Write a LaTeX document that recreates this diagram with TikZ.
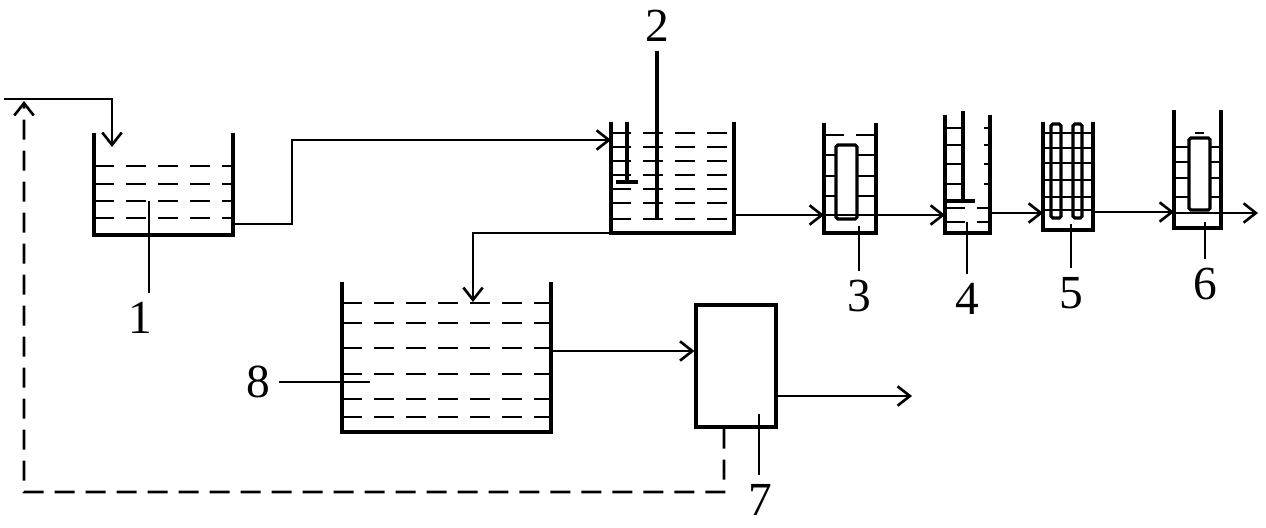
\documentclass[tikz,border=0pt]{standalone}
\usepackage{fontspec}
\setmainfont{Liberation Serif}
\usetikzlibrary{arrows.meta,positioning}

\begin{document}
\begin{tikzpicture}[x=0.02cm,y=-0.02cm,
  >={Straight Barb[length=7pt,width=11pt]},
  wall/.style={line width=1.8pt},
  pipe/.style={line width=1.5pt},
  flow/.style={pipe,->},
  liquid/.style={line width=1.6pt,dash pattern=on 0.4cm off 0.24cm},
  back/.style={line width=1.5pt,dash pattern=on 0.4cm off 0.22cm},
  lead/.style={line width=1.1pt},
  num/.style={font=\fontsize{27}{30}\selectfont,inner sep=5pt}]
  \useasboundingbox (0,0) rectangle (1266,527);

  \node[num] (n1) at (140,318) {1};
  \node[num] (n2) at (657,26) {2};
  \node[num] (n3) at (859,296) {3};
  \node[num] (n4) at (967,299) {4};
  \node[num] (n5) at (1071,293) {5};
  \node[num] (n6) at (1205,284) {6};
  \node[num] (n7) at (760,500) {7};
  \node[num] (n8) at (258,382) {8};
  \node[draw,wall,minimum width=1.6cm,minimum height=2.44cm,inner sep=0pt] (u7) at (736,366) {};

  % tank 1
  \draw[wall] (94,133) -- (94,235) -- (233,235) -- (233,133);
  \foreach \y in {166,184,201,218} \draw[liquid] (94,\y) -- (233,\y);
  \coordinate (p1) at (149,201);
  \draw[lead] (p1) -- (p1 |- n1.north);

  % tank 2
  \draw[wall] (611,122) -- (611,233) -- (734,233) -- (734,122);
  \foreach \y in {133,147,161,175,189,203,219} \draw[liquid] (611,\y) -- (734,\y);
  \draw[wall] (627,122) -- (627,182) (616,182) -- (638,182);
  \draw[wall] (n2.south) -- (657,219);

  % tank 3
  \draw[wall] (824,123) -- (824,233) -- (876,233) -- (876,123);
  \draw[wall,rounded corners=1pt] (836,145) rectangle (857,219);
  \draw[liquid] (824,135) -- (876,135);
  \foreach \y in {155,176,196} \draw[pipe] (824,\y) -- (836,\y) (857,\y) -- (876,\y);
  \coordinate (p3) at (859,226);
  \draw[lead] (p3) -- (p3 |- n3.north);

  % tank 4
  \draw[wall] (945,115) -- (945,233) -- (990,233) -- (990,115);
  \draw[wall] (963,111) -- (963,201) (945,201) -- (975,201);
  \foreach \y in {128,145,164,184} \draw[pipe] (945,\y) -- (963,\y) (984,\y) -- (990,\y);
  \foreach \y in {208,222} \draw[liquid] (945,\y) -- (990,\y);
  \coordinate (p4) at (967,222);
  \draw[lead] (p4) -- (p4 |- n4.north);

  % tank 5
  \draw[wall] (1043,122) -- (1043,230) -- (1093,230) -- (1093,122);
  \draw[wall,rounded corners=1pt] (1051,124) rectangle (1061,218) (1073,124) rectangle (1082,218);
  \foreach \y in {133,148,163,180,197,210} \draw[pipe] (1043,\y) -- (1093,\y);
  \coordinate (p5) at (1071,224);
  \draw[lead] (p5) -- (p5 |- n5.north);

  % tank 6
  \draw[wall] (1174,110) -- (1174,228) -- (1221,228) -- (1221,110);
  \draw[wall,rounded corners=1pt] (1189,138) rectangle (1210,210);
  \draw[pipe] (1195,133) -- (1204,133);
  \foreach \y in {147,162,178,197} \draw[pipe] (1174,\y) -- (1189,\y) (1210,\y) -- (1221,\y);
  \coordinate (p6) at (1205,222);
  \draw[lead] (p6) -- (p6 |- n6.north);

  % tank 8
  \draw[wall] (342,282) -- (342,432) -- (551,432) -- (551,282);
  \foreach \y in {303,323,348,374,399,417} \draw[liquid] (342,\y) -- (551,\y);
  \coordinate (p8) at (370,382);
  \draw[lead] (p8) -- (n8.east |- p8);

  % flows
  \draw[flow] (4,99) -- (112,99) -- (112,147);
  \draw[flow] (233,224) -- (292,224) -- (292,140) -- (611,140);
  \draw[flow] (611,233) -- (473,233) -- (473,302);
  \draw[flow] (734,215) -- (824,215);
  \draw[flow] (824,215) -- (945,215);
  \draw[flow] (990,213) -- (1043,213);
  \draw[flow] (1093,212) -- (1174,212);
  \draw[flow] (1174,213) -- (1258,213);
  \draw[flow] (551,351) -- (u7.west |- 0,351);
  \draw[flow] (u7.east |- 0,396) -- (912,396);
  \coordinate (p7) at (759,414);
  \draw[lead] (p7) -- (p7 |- n7.north);
  \draw[back,->] ([xshift=-0.24cm]u7.south) -- (724,492) -- (24,492) -- (24,101);
\end{tikzpicture}
\end{document}
